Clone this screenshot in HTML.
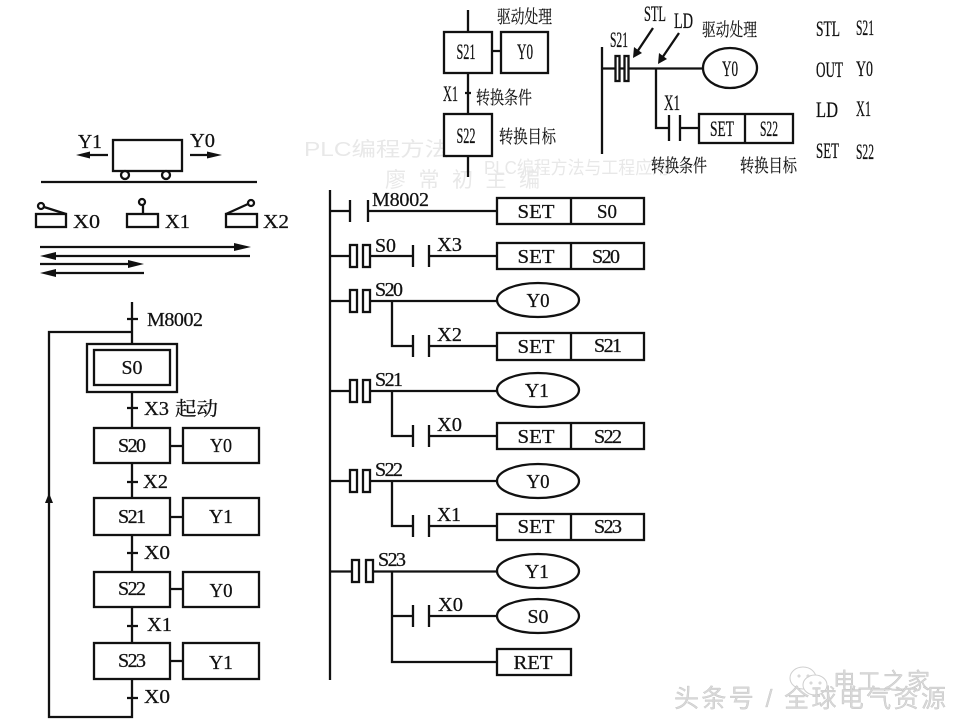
<!DOCTYPE html>
<html><head><meta charset="utf-8">
<style>
html,body{margin:0;padding:0;background:#fff;width:960px;height:720px;overflow:hidden}
svg{display:block;filter:blur(.35px)}
.l{fill:none;stroke:#111;stroke-width:2.3}
.b{fill:#fff;stroke:#111;stroke-width:2.3}
text{font-family:"Liberation Serif","Noto Serif CJK SC",serif;fill:#111;font-size:20px;stroke:#111;stroke-width:.25}
.c{text-anchor:middle}
.top text{font-size:22px}
.top .z{font-size:18px;stroke-width:.15}
.z{font-family:"Liberation Serif","Noto Serif CJK SC",serif}
.wm{font-family:"Liberation Sans","Noto Sans CJK SC",sans-serif;fill:#e8e8e8;font-size:20px;stroke:none}
.wb{font-family:"Liberation Sans","Noto Sans CJK SC",sans-serif;fill:#d8d8d8;stroke:#b5b5b5;stroke-width:.25}
</style></head><body>
<svg width="960" height="720" viewBox="0 0 960 720" xmlns="http://www.w3.org/2000/svg">
<rect width="960" height="720" fill="#fff"/>

<!-- watermarks -->
<text class="wm" x="304" y="156" textLength="145" lengthAdjust="spacingAndGlyphs">PLC编程方法</text>
<text class="wm" x="484" y="174" textLength="185" lengthAdjust="spacingAndGlyphs" style="font-size:18px">PLC编程方法与工程应用</text>
<text class="wm" x="385" y="187" textLength="155" style="font-size:21px">廖常初主编</text>

<g class="top">
<!-- top SFC -->
<path class="l" d="M468 10V32M468 73V114M468 156V177M492 51H501M465 93H471"/>
<rect class="b" x="444" y="32" width="48" height="41"/>
<rect class="b" x="501" y="32" width="47" height="41"/>
<rect class="b" x="444" y="114" width="48" height="42"/>
<text class="c" x="466" y="59" textLength="19" lengthAdjust="spacingAndGlyphs">S21</text>
<text class="c" x="525" y="59" textLength="16" lengthAdjust="spacingAndGlyphs">Y0</text>
<text class="c" x="466" y="143" textLength="19" lengthAdjust="spacingAndGlyphs">S22</text>
<text x="443" y="101" textLength="15" lengthAdjust="spacingAndGlyphs">X1</text>
<text class="z" x="497" y="23" textLength="55" lengthAdjust="spacingAndGlyphs">驱动处理</text>
<text class="z" x="476" y="104" textLength="56" lengthAdjust="spacingAndGlyphs">转换条件</text>
<text class="z" x="499" y="143" textLength="57" lengthAdjust="spacingAndGlyphs">转换目标</text>

<!-- top ladder -->
<path class="l" d="M602 47V154M602 68.500H703M656 68V128H669M669 115V141M680 115V141M680 128H699"/>
<rect class="b" x="615.500" y="56" width="4" height="25"/>
<rect class="b" x="624.500" y="56" width="4" height="25"/>
<ellipse class="b" cx="730" cy="68" rx="27" ry="20"/>
<rect class="b" x="699" y="114" width="94" height="29"/>
<path class="l" d="M745 114V143"/>
<path class="l" d="M653 28L637 52M679 33L662 58"/>
<path d="M633 58L634 47L642 53ZM658 64L659 53L667 59Z" fill="#111"/>
<text x="610" y="47" textLength="18" lengthAdjust="spacingAndGlyphs">S21</text>
<text x="644" y="21" textLength="22" lengthAdjust="spacingAndGlyphs">STL</text>
<text x="674" y="28" textLength="19" lengthAdjust="spacingAndGlyphs">LD</text>
<text class="z" x="702" y="36" textLength="55" lengthAdjust="spacingAndGlyphs">驱动处理</text>
<text class="c" x="730" y="76" textLength="16" lengthAdjust="spacingAndGlyphs">Y0</text>
<text x="664" y="110" textLength="16" lengthAdjust="spacingAndGlyphs">X1</text>
<text class="c" x="722" y="136" textLength="24" lengthAdjust="spacingAndGlyphs">SET</text>
<text class="c" x="769" y="136" textLength="18" lengthAdjust="spacingAndGlyphs">S22</text>
<text class="z" x="651" y="172" textLength="56" lengthAdjust="spacingAndGlyphs">转换条件</text>
<text class="z" x="740" y="172" textLength="57" lengthAdjust="spacingAndGlyphs">转换目标</text>

<!-- instruction list -->
<text x="816" y="36" textLength="24" lengthAdjust="spacingAndGlyphs">STL</text>
<text x="856" y="35" textLength="18" lengthAdjust="spacingAndGlyphs">S21</text>
<text x="816" y="77" textLength="27" lengthAdjust="spacingAndGlyphs">OUT</text>
<text x="856" y="76" textLength="17" lengthAdjust="spacingAndGlyphs">Y0</text>
<text x="816" y="117" textLength="22" lengthAdjust="spacingAndGlyphs">LD</text>
<text x="856" y="116" textLength="15" lengthAdjust="spacingAndGlyphs">X1</text>
<text x="816" y="158" textLength="23" lengthAdjust="spacingAndGlyphs">SET</text>
<text x="856" y="159" textLength="18" lengthAdjust="spacingAndGlyphs">S22</text>
</g>

<!-- cart -->
<rect class="b" x="113" y="140" width="69" height="31"/>
<path class="l" d="M41 182H257M108 155H86M190 155H212"/>
<circle class="b" cx="125" cy="175" r="4"/>
<circle class="b" cx="166" cy="175" r="4"/>
<path d="M76 155L90 151.500V158.500ZM222 155L207 151.500V158.500Z" fill="#111"/>
<text x="78" y="148" textLength="24" lengthAdjust="spacingAndGlyphs">Y1</text>
<text x="190" y="147" textLength="25" lengthAdjust="spacingAndGlyphs">Y0</text>

<!-- limit switches -->
<rect class="b" x="36" y="214" width="30" height="13"/>
<rect class="b" x="127" y="214" width="31" height="13"/>
<rect class="b" x="226" y="214" width="31" height="13"/>
<path class="l" d="M66 214L44 207M143 214V205M226 214L248 204"/>
<circle class="b" cx="41" cy="206" r="3"/>
<circle class="b" cx="142" cy="202" r="3"/>
<circle class="b" cx="251" cy="203" r="3"/>
<text x="73" y="228" textLength="27" lengthAdjust="spacingAndGlyphs">X0</text>
<text x="165" y="228" textLength="25" lengthAdjust="spacingAndGlyphs">X1</text>
<text x="263" y="228" textLength="26" lengthAdjust="spacingAndGlyphs">X2</text>

<!-- motion arrows -->
<path class="l" d="M40 247H240M50 256H250M40 264H134M50 273H144"/>
<path d="M251 247L234 243V251ZM40 256L56 252V260ZM144 264L128 260V268ZM40 273L56 269V277Z" fill="#111"/>

<!-- main SFC -->
<path class="l" d="M132 302V344M132 332H49V717H132V679M127 319H138M132 392V428M127 408H138M132 463V498M127 482H138M132 535V572M127 553H138M132 607V643M127 626H138M127 698H138M170 446H183M170 517H183M170 589H183M170 661H183"/>
<path d="M49 493L45 503H53Z" fill="#111"/>
<rect class="b" x="87" y="344" width="90" height="48"/>
<rect class="b" x="94" y="350" width="76" height="35"/>
<rect class="b" x="94" y="428" width="76" height="35"/>
<rect class="b" x="183" y="428" width="76" height="35"/>
<rect class="b" x="94" y="498" width="76" height="37"/>
<rect class="b" x="183" y="498" width="76" height="37"/>
<rect class="b" x="94" y="572" width="76" height="35"/>
<rect class="b" x="183" y="572" width="76" height="35"/>
<rect class="b" x="94" y="643" width="76" height="36"/>
<rect class="b" x="183" y="643" width="76" height="36"/>
<text class="c" x="132" y="374" textLength="21" lengthAdjust="spacingAndGlyphs">S0</text>
<text class="c" x="132" y="452" textLength="28">S20</text>
<text class="c" x="221" y="452" textLength="22" lengthAdjust="spacingAndGlyphs">Y0</text>
<text class="c" x="132" y="523" textLength="28">S21</text>
<text class="c" x="221" y="523" textLength="24" lengthAdjust="spacingAndGlyphs">Y1</text>
<text class="c" x="132" y="595" textLength="28">S22</text>
<text class="c" x="221" y="597" textLength="23" lengthAdjust="spacingAndGlyphs">Y0</text>
<text class="c" x="132" y="667" textLength="28">S23</text>
<text class="c" x="221" y="669" textLength="24" lengthAdjust="spacingAndGlyphs">Y1</text>
<text x="147" y="326" textLength="56">M8002</text>
<text x="144" y="415" textLength="25" lengthAdjust="spacingAndGlyphs">X3</text>
<text class="z" x="175" y="415" textLength="43" lengthAdjust="spacingAndGlyphs" style="font-size:19px">起动</text>
<text x="143" y="488" textLength="25" lengthAdjust="spacingAndGlyphs">X2</text>
<text x="144" y="559" textLength="26" lengthAdjust="spacingAndGlyphs">X0</text>
<text x="147" y="631" textLength="25" lengthAdjust="spacingAndGlyphs">X1</text>
<text x="144" y="703" textLength="26" lengthAdjust="spacingAndGlyphs">X0</text>

<!-- ladder rail + rungs -->
<path class="l" d="M330 190V680"/>
<path class="l" d="M330 211H350M350 200V222M368 200V222M368 211H497"/>
<path class="l" d="M330 256H350M370 256H413M413 245V267M429 245V267M429 256H497"/>
<path class="l" d="M330 301H350M370 301H497M392 301V346H413M413 335V357M429 335V357M429 346H497"/>
<path class="l" d="M330 391H350M370 391H497M392 391V436H413M413 425V447M429 425V447M429 436H497"/>
<path class="l" d="M330 481H350M370 481H497M392 481V526H413M413 515V537M429 515V537M429 526H497"/>
<path class="l" d="M330 571.500H352M372 571.500H497M392 571V662H497M392 616H413M413 605V627M429 605V627M429 616H497"/>

<rect class="b" x="350" y="245" width="7" height="22"/><rect class="b" x="363" y="245" width="7" height="22"/>
<rect class="b" x="350" y="290" width="7" height="22"/><rect class="b" x="363" y="290" width="7" height="22"/>
<rect class="b" x="350" y="380" width="7" height="22"/><rect class="b" x="363" y="380" width="7" height="22"/>
<rect class="b" x="350" y="470" width="7" height="22"/><rect class="b" x="363" y="470" width="7" height="22"/>
<rect class="b" x="352" y="560" width="7" height="22"/><rect class="b" x="366" y="560" width="7" height="22"/>

<!-- SET boxes -->
<rect class="b" x="497" y="198" width="147" height="26"/><path class="l" d="M571 198V224"/>
<rect class="b" x="497" y="243" width="147" height="26"/><path class="l" d="M571 243V269"/>
<rect class="b" x="497" y="333" width="147" height="27"/><path class="l" d="M571 333V360"/>
<rect class="b" x="497" y="423" width="147" height="26"/><path class="l" d="M571 423V449"/>
<rect class="b" x="497" y="514" width="147" height="26"/><path class="l" d="M571 514V540"/>
<rect class="b" x="497" y="649" width="74" height="26"/>

<ellipse class="b" cx="538" cy="300" rx="41" ry="17"/>
<ellipse class="b" cx="538" cy="390" rx="41" ry="17"/>
<ellipse class="b" cx="538" cy="481" rx="41" ry="17"/>
<ellipse class="b" cx="538" cy="571" rx="41" ry="17"/>
<ellipse class="b" cx="538" cy="616" rx="41" ry="17"/>

<!-- ladder labels -->
<text x="372" y="206" textLength="57">M8002</text>
<text x="375" y="252" textLength="21" lengthAdjust="spacingAndGlyphs">S0</text>
<text x="437" y="251" textLength="25" lengthAdjust="spacingAndGlyphs">X3</text>
<text x="375" y="296" textLength="28">S20</text>
<text x="437" y="341" textLength="25" lengthAdjust="spacingAndGlyphs">X2</text>
<text x="375" y="386" textLength="28">S21</text>
<text x="437" y="431" textLength="25" lengthAdjust="spacingAndGlyphs">X0</text>
<text x="375" y="476" textLength="28">S22</text>
<text x="437" y="521" textLength="24" lengthAdjust="spacingAndGlyphs">X1</text>
<text x="378" y="566" textLength="28">S23</text>
<text x="438" y="611" textLength="25" lengthAdjust="spacingAndGlyphs">X0</text>

<text class="c" x="536" y="218" textLength="37" lengthAdjust="spacingAndGlyphs">SET</text>
<text class="c" x="607" y="218" textLength="20" lengthAdjust="spacingAndGlyphs">S0</text>
<text class="c" x="536" y="263" textLength="37" lengthAdjust="spacingAndGlyphs">SET</text>
<text class="c" x="606" y="263" textLength="28">S20</text>
<text class="c" x="536" y="353" textLength="37" lengthAdjust="spacingAndGlyphs">SET</text>
<text class="c" x="608" y="352" textLength="28">S21</text>
<text class="c" x="536" y="443" textLength="37" lengthAdjust="spacingAndGlyphs">SET</text>
<text class="c" x="608" y="443" textLength="28">S22</text>
<text class="c" x="536" y="533" textLength="37" lengthAdjust="spacingAndGlyphs">SET</text>
<text class="c" x="608" y="533" textLength="28">S23</text>
<text class="c" x="533" y="669" textLength="39" lengthAdjust="spacingAndGlyphs">RET</text>
<text class="c" x="538" y="307" textLength="23" lengthAdjust="spacingAndGlyphs">Y0</text>
<text class="c" x="537" y="397" textLength="24" lengthAdjust="spacingAndGlyphs">Y1</text>
<text class="c" x="538" y="488" textLength="23" lengthAdjust="spacingAndGlyphs">Y0</text>
<text class="c" x="537" y="578" textLength="24" lengthAdjust="spacingAndGlyphs">Y1</text>
<text class="c" x="538" y="623" textLength="21" lengthAdjust="spacingAndGlyphs">S0</text>

<!-- bottom-right watermark -->
<g fill="none" stroke="#cfcfcf" stroke-width="1">
<ellipse cx="803" cy="678" rx="13" ry="11"/>
<ellipse cx="815" cy="685" rx="12" ry="10" fill="#fff"/>
<circle cx="799" cy="676" r="1"/><circle cx="808" cy="676" r="1"/>
<circle cx="811" cy="683" r="1"/><circle cx="820" cy="683" r="1"/>
</g>
<text class="wb" x="833" y="689" textLength="97" style="font-size:23px">电工之家</text>
<text class="wb" x="674" y="707" textLength="272" style="font-size:25px">头条号 / 全球电气资源</text>
</svg>
</body></html>
